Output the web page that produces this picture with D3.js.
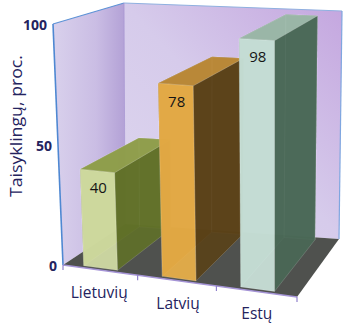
<!DOCTYPE html>
<html>
<head>
<meta charset="utf-8">
<script src="https://cdn.jsdelivr.net/npm/d3@7"></script>
<style>
body { margin: 0; background: #fff; }
text { font-family: "Open Sans", sans-serif; }
</style>
</head>
<body>
<script>
// data
var categories = ["Lietuvių", "Latvių", "Estų"];
var values = [40, 78, 98];
var yTicks = [0, 50, 100];
var yTitle = "Taisyklingų, proc.";

var frontColors = ["#dbe5ab", "#f2b549", "#d3ebe3"];
var sideColors = ["#617128", "#5a4117", "#4a6957"];
var topColors = ["#94a34e", "#c48f39", "#a3bfaf"];

var w = 348, h = 327;
var textColor = "#24235e";

// screen corners of the chart box: floor (front-left, front-right, back-right, back-left) and the same at 100
var floorPts = [[63, 265], [297, 297], [339, 239], [125, 224]];
var topPts = [[53, 24], [298, 38], [342, 11], [124, 3]];

function lerp(a, b, t) { return [a[0] + (b[0] - a[0]) * t, a[1] + (b[1] - a[1]) * t]; }
function quad(q, x, z) { return lerp(lerp(q[0], q[1], x), lerp(q[3], q[2], x), z); }
// x: category axis 0..1, y: value 0..1, z: depth 0 (front) .. 1 (back)
function project(x, y, z) { return lerp(quad(floorPts, x, z), quad(topPts, x, z), y); }

var x = d3.scaleBand().domain(categories).range([0, 1])
    .paddingInner(0.57).paddingOuter(0.27).align(0.43);
var y = d3.scaleLinear().domain([0, 100]).range([0, 1]);
var zFront = 0.04, zBack = 0.96;

var line = d3.line();
function poly(pts) { return line(pts.map(function(p) { return project(p[0], p[1], p[2]); })) + "Z"; }

var svg = d3.select("body").append("svg")
    .attr("width", w)
    .attr("height", h);

var defs = svg.append("defs");
var g1 = defs.append("linearGradient").attr("id", "leftWall")
    .attr("gradientUnits", "userSpaceOnUse")
    .attr("x1", 53).attr("y1", 0).attr("x2", 125).attr("y2", 0);
g1.append("stop").attr("offset", 0).attr("stop-color", "#d9d1ec");
g1.append("stop").attr("offset", 0.6).attr("stop-color", "#cabde4");
g1.append("stop").attr("offset", 1).attr("stop-color", "#b3a1d6");
var g2 = defs.append("linearGradient").attr("id", "backWall")
    .attr("x1", 0).attr("y1", 1).attr("x2", 1).attr("y2", 0);
g2.append("stop").attr("offset", 0).attr("stop-color", "#ddd6ee");
g2.append("stop").attr("offset", 0.5).attr("stop-color", "#d6cbeb");
g2.append("stop").attr("offset", 1).attr("stop-color", "#c4a6df");

// walls and floor
svg.append("path")
    .attr("d", poly([[0, 0, 1], [1, 0, 1], [1, 1, 1], [0, 1, 1]]))
    .attr("fill", "url(#backWall)");
svg.append("path")
    .attr("d", poly([[0, 0, 0], [0, 0, 1], [0, 1, 1], [0, 1, 0]]))
    .attr("fill", "url(#leftWall)");
svg.append("path")
    .attr("d", poly([[0, 0, 0], [1, 0, 0], [1, 0, 1], [0, 0, 1]]))
    .attr("fill", "#4f514e");

// wall edges
var edges = [
    [[0, 0, 0], [0, 1, 0], "#4f88d2", 1.6],
    [[0, 1, 0], [0, 1, 1], "#5d92d6", 1.2],
    [[0, 1, 1], [1, 1, 1], "#8fb0e0", 1],
    [[1, 1, 1], [1, 0, 1], "#7fa6e0", 1.2],
    [[0, 1, 1], [0, 0, 1], "#a796d2", 0.8],
    [[0, 0, 0], [1, 0, 0], "#a594d6", 1.3]
];
svg.selectAll("path.edge")
    .data(edges)
    .enter()
    .append("path")
    .attr("class", "edge")
    .attr("d", function(d) { return line([project(d[0][0], d[0][1], d[0][2]), project(d[1][0], d[1][1], d[1][2])]); })
    .attr("stroke", function(d) { return d[2]; })
    .attr("stroke-width", function(d) { return d[3]; })
    .attr("fill", "none");

// ticks on the front floor edge, between categories
var step = x.step();
var tickPos = [0].concat(categories.map(function(c, i) {
    return i < categories.length - 1 ? x(c) + x.bandwidth() + (step - x.bandwidth()) / 2 : 1;
}));
svg.selectAll("line.xtick")
    .data(tickPos)
    .enter()
    .append("line")
    .attr("class", "xtick")
    .attr("x1", function(d) { return project(d, 0, 0)[0]; })
    .attr("y1", function(d) { return project(d, 0, 0)[1]; })
    .attr("x2", function(d) { return project(d, 0, 0)[0]; })
    .attr("y2", function(d) { return project(d, 0, 0)[1] + 5; })
    .attr("stroke", "#8f80cc")
    .attr("stroke-width", 1.2);

// bars
var bars = svg.selectAll("g.bar")
    .data(values)
    .enter()
    .append("g")
    .attr("class", "bar");

function faces(d, i) {
    var x0 = x(categories[i]), x1 = x0 + x.bandwidth(), v = y(d);
    return [
        { pts: [[x0, 0, zBack], [x1, 0, zBack], [x1, v, zBack], [x0, v, zBack]], fill: sideColors[i] },
        { pts: [[x0, 0, zFront], [x0, 0, zBack], [x0, v, zBack], [x0, v, zFront]], fill: sideColors[i] },
        { pts: [[x1, 0, zFront], [x1, 0, zBack], [x1, v, zBack], [x1, v, zFront]], fill: sideColors[i] },
        { pts: [[x0, v, zFront], [x1, v, zFront], [x1, v, zBack], [x0, v, zBack]], fill: topColors[i] },
        { pts: [[x0, 0, zFront], [x1, 0, zFront], [x1, v, zFront], [x0, v, zFront]], fill: frontColors[i] }
    ];
}

bars.selectAll("path")
    .data(function(d, i) { return faces(d, i); })
    .enter()
    .append("path")
    .attr("d", function(f) { return poly(f.pts); })
    .attr("fill", function(f) { return f.fill; })
    .attr("fill-opacity", 0.88)
    .attr("stroke", "#ffffff")
    .attr("stroke-opacity", 0.25)
    .attr("stroke-width", 0.6);

// value labels on the front faces
bars.append("text")
    .text(function(d) { return d; })
    .attr("x", function(d, i) { return project(x(categories[i]) + x.bandwidth() / 2, y(d), zFront)[0] + 1; })
    .attr("y", function(d, i) { return project(x(categories[i]) + x.bandwidth() / 2, y(d), zFront)[1] + 22; })
    .attr("text-anchor", "middle")
    .attr("font-size", "15px")
    .attr("fill", "#151515");

// category labels
svg.selectAll("text.cat")
    .data(categories)
    .enter()
    .append("text")
    .attr("class", "cat")
    .text(function(d) { return d; })
    .attr("x", function(d) { return project(x(d) + x.bandwidth() / 2, 0, 0)[0] + 1; })
    .attr("y", function(d) { return project(x(d) + x.bandwidth() / 2, 0, 0)[1] + 28; })
    .attr("text-anchor", "middle")
    .attr("font-size", "15.5px")
    .attr("font-weight", 500)
    .attr("fill", textColor);

// value axis labels
svg.selectAll("text.ytick")
    .data(yTicks)
    .enter()
    .append("text")
    .attr("class", "ytick")
    .text(function(d) { return d; })
    .attr("x", function(d) { return project(0, y(d), 0)[0] - 6; })
    .attr("y", function(d) { return project(0, y(d), 0)[1] + 6; })
    .attr("text-anchor", "end")
    .attr("font-size", "14px")
    .attr("font-weight", "bold")
    .attr("fill", textColor);

svg.append("text")
    .text(yTitle)
    .attr("transform", "translate(22,126) rotate(-90)")
    .attr("text-anchor", "middle")
    .attr("font-size", "16.5px")
    .attr("textLength", 142)
    .attr("lengthAdjust", "spacingAndGlyphs")
    .attr("fill", textColor);
</script>
</body>
</html>
